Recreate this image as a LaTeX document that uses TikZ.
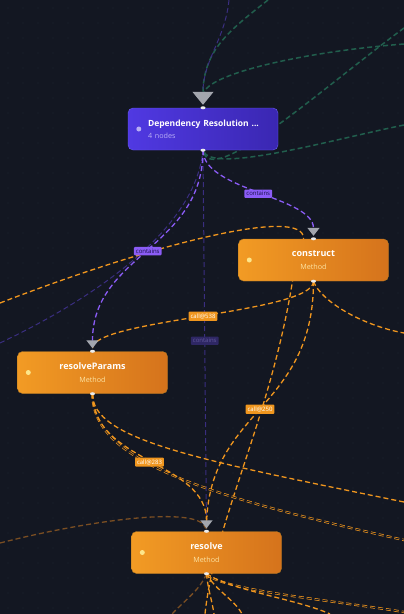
\documentclass[tikz,border=0pt]{standalone}
\usepackage{fontspec}
\setmainfont{Open Sans}
\usetikzlibrary{arrows.meta,positioning}
\definecolor{bgnavy}{HTML}{131722}
\definecolor{griddot}{HTML}{1F2433}
\definecolor{grpA}{HTML}{5039E2}
\definecolor{grpB}{HTML}{3A27B2}
\definecolor{grpline}{HTML}{6A5CF2}
\definecolor{orgA}{HTML}{F29B24}
\definecolor{orgB}{HTML}{D5731C}
\definecolor{orgline}{HTML}{B57A22}
\definecolor{callc}{HTML}{F0961E}
\definecolor{callfade}{HTML}{7A4E22}
\definecolor{vio}{HTML}{8B5CF6}
\definecolor{viofade}{HTML}{3A2E80}
\definecolor{grn}{HTML}{215E4D}
\definecolor{tipgray}{HTML}{A3A6AE}
\definecolor{methtxt}{HTML}{FCE3A2}
\definecolor{subtxt}{HTML}{B9AEF5}
\definecolor{dotyel}{HTML}{FDE68A}
\pgfdeclarelayer{bg}
\pgfsetlayers{bg,main}
\newcommand\meth[1]{{\bfseries #1}\\{\color{methtxt}\fontsize{7.2}{13}\selectfont Method}}

\begin{document}
\begin{tikzpicture}[x=1pt,y=-1pt,
    method/.style={rounded corners=5pt,draw=orgline,left color=orgA,right color=orgB,
      minimum width=150pt,minimum height=42pt,align=center,text=white,inner sep=0pt,
      font=\fontsize{9}{13}\selectfont},
    grpbox/.style={rounded corners=5pt,draw=grpline,left color=grpA,right color=grpB,
      text width=110pt,inner xsep=20pt,minimum height=42pt,align=left,text=white,
      font=\fontsize{8.5}{12}\selectfont},
    link/.style={line width=1.3pt,dash pattern=on 5pt off 3pt},
    lbl/.style={font=\fontsize{6}{7}\selectfont,inner xsep=2pt,inner ysep=2pt,rounded corners=1pt},
    lblv/.style={lbl,fill=vio,text=grpB!40!black},
    lblc/.style={lbl,fill=callc,text=white},
    lblf/.style={lbl,fill=viofade!70!bgnavy,text=viofade!80!white},
    tipS/.style={-{Triangle[width=12pt,length=8pt,color=tipgray]},shorten >=3pt},
    tipL/.style={-{Triangle[width=21pt,length=13pt,color=tipgray]},shorten >=3pt},
    handle/.style={fill=white!85!gray}]
  \useasboundingbox (0,0) rectangle (404,614);
  \node [grpbox] (grp) at (203,129) {\mbox{\bfseries Dependency Resolution ...}\\{\color{subtxt}\fontsize{7.2}{12}\selectfont 4 nodes}};
  \node [method] (constr) at (313.5,260) {\meth{construct}};
  \node [method] (rparams) at (92.5,372.5) {\meth{resolveParams}};
  \node [method] (resolv) at (206.5,552.5) {\meth{resolve}};
  \foreach \n in {grp,constr,rparams,resolv} {
    \fill [handle] (\n.north) ellipse (2.5pt and 1.5pt);
    \fill [handle] (\n.south) ellipse (2.5pt and 1.5pt);
  }
  \fill [subtxt] ([xshift=11pt]grp.west) circle (2.5pt);
  \foreach \n in {constr,rparams,resolv}
    \fill [dotyel] ([xshift=11pt]\n.west) circle (2.5pt);

  % free ends at the border
  \coordinate (g1) at (268,0);
  \coordinate (g2) at (404,44);
  \coordinate (g3) at (404,28);
  \coordinate (g4) at (404,125);
  \coordinate (p0) at (229,0);
  \coordinate (p1) at (0,343);
  \coordinate (x0) at (0,303);
  \coordinate (y0) at (205,614);
  \coordinate (c1) at (404,333);
  \coordinate (a0) at (404,502);
  \coordinate (b0) at (404,540);
  \coordinate (f0) at (0,543);
  \coordinate (r1) at (404,612);
  \coordinate (r2) at (330,614);
  \coordinate (r3) at (172,614);
  \coordinate (r4) at (214,614);
  \coordinate (r5) at (242,614);

  \begin{pgfonlayer}{bg}
    \fill [bgnavy] (0,0) rectangle (404,614);
    \foreach \x in {8,23,...,404}
      \foreach \y in {8,23,...,614}
        \fill [griddot] (\x,\y) circle (0.6pt);
    % group
    \draw [link,grn,line width=1.5pt,shorten >=14pt] (g1) .. controls (230,30) and (203,50) .. (grp.north);
    \draw [link,grn,line width=1.5pt,shorten >=14pt] (g2) .. controls (300,52) and (205,75) .. (grp.north);
    \draw [link,grn,line width=1.5pt] (g3) .. controls (320,90) and (210,190) .. (grp.south);
    \draw [link,grn,line width=1.5pt] (g4) .. controls (330,140) and (210,175) .. (grp.south);
    \draw [link,viofade,line width=1pt,tipL] (p0) .. controls (225,40) and (203,60) .. (grp.north);
    \draw [link,viofade,line width=1pt] (p1) .. controls (80,305) and (195,235) .. (grp.south);
    \draw [link,viofade,line width=1pt,shorten >=3pt] (grp.south) -- node [lblf] {contains} (resolv.north);
    % orange
    \draw [link,callc] (x0) .. controls (150,245) and (305,205) .. ([xshift=-10pt]constr.north)
      -- ([xshift=-21pt]constr.south) .. controls (270,420) and (215,520) .. (y0);
    \draw [link,callc,shorten >=3pt] (constr.south) .. controls +(0,32) and +(0,-32) .. node [lblc] {call@538} (rparams.north);
    \draw [link,callc,shorten >=3pt] (constr.south) .. controls +(0,130) and +(0,-122) .. node [lblc] {call@250} (resolv.north);
    \draw [link,callc] (constr.south) .. controls (320,300) and (360,325) .. (c1);
    \draw [link,callc] (rparams.south) .. controls (92,440) and (200,460) .. (a0);
    \draw [link,callc,line width=0.7pt,double=bgnavy,double distance=0.9pt] (rparams.south) .. controls (92,460) and (200,495) .. (b0);
    \draw [link,callfade,shorten >=3pt] (f0) .. controls (90,520) and (200,505) .. (resolv.north);
    \draw [link,callc,tipS] (rparams.south) .. controls +(0,69) and +(0,-70) .. node [lblc] {call@283} (resolv.north);
    \draw [link,callc,line width=0.7pt,double=bgnavy,double distance=0.9pt] (resolv.south) .. controls (220,590) and (330,600) .. (r1);
    \draw [link,callc] (resolv.south) .. controls (230,590) and (300,600) .. (r2);
    \draw [link,callfade] (resolv.south) .. controls (200,590) and (185,600) .. (r3);
    \draw [link,callc] (resolv.south) .. controls (208,590) and (212,600) .. (r4);
    \draw [link,callc] (resolv.south) .. controls (215,590) and (235,600) .. (r5);
    % contains
    \draw [link,vio,tipS] (grp.south) .. controls +(0,40) and +(0,-42) .. node [lblv] {contains} (constr.north);
    \draw [link,vio,tipS] (grp.south) .. controls +(0,98) and +(0,-97) .. node [lblv] {contains} (rparams.north);
  \end{pgfonlayer}
\end{tikzpicture}
\end{document}
